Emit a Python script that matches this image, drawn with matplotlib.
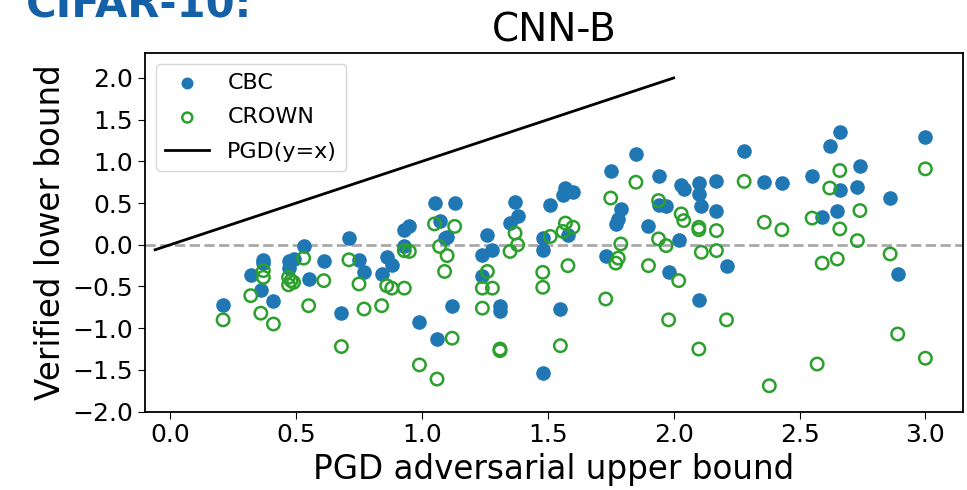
import matplotlib
matplotlib.use("Agg")
import matplotlib.pyplot as plt

# CBC verified lower bounds
cbc_x = [0.21, 0.32, 0.36, 0.37, 0.37, 0.41, 0.47, 0.49, 0.47, 0.53, 0.55, 0.61,
         0.68, 0.71, 0.75, 0.77, 0.84, 0.86, 0.88, 0.93, 0.95, 0.93, 0.99, 1.05,
         1.06, 1.07, 1.09, 1.10, 1.13, 1.12, 1.24, 1.26, 1.24, 1.28, 1.31, 1.31,
         1.35, 1.37, 1.38, 1.48, 1.48, 1.48, 1.51, 1.55, 1.56, 1.57, 1.58, 1.60,
         1.73, 1.75, 1.77, 1.78, 1.79, 1.85, 1.90, 1.94, 1.94, 1.97, 1.98, 2.02,
         2.03, 2.04, 2.10, 2.10, 2.11, 2.10, 2.17, 2.17, 2.21, 2.28, 2.36, 2.43,
         2.55, 2.59, 2.62, 2.65, 2.66, 2.66, 2.74, 2.73, 2.86, 2.89, 3.00]
cbc_y = [-0.72, -0.36, -0.54, -0.18, -0.22, -0.68, -0.20, -0.17, -0.28, -0.01, -0.41, -0.20,
         -0.82, 0.08, -0.18, -0.33, -0.35, -0.15, -0.24, 0.18, 0.22, -0.01, -0.93, 0.50,
         -1.13, 0.29, 0.08, 0.09, 0.50, -0.74, -0.12, 0.12, -0.37, -0.06, -0.73, -0.79,
         0.26, 0.51, 0.35, 0.08, -0.06, -1.54, 0.48, -0.77, 0.60, 0.68, 0.12, 0.63,
         -0.14, 0.88, 0.25, 0.31, 0.43, 1.09, 0.23, 0.82, 0.48, 0.46, -0.33, 0.06,
         0.72, 0.67, 0.74, 0.61, 0.46, -0.66, 0.76, 0.40, -0.25, 1.12, 0.75, 0.74,
         0.83, 0.33, 1.18, 0.40, 1.35, 0.66, 0.95, 0.69, 0.56, -0.35, 1.29]

# CROWN verified lower bounds
crown_x = [0.21, 0.32, 0.36, 0.37, 0.37, 0.41, 0.47, 0.47, 0.49, 0.48, 0.53, 0.55,
           0.61, 0.68, 0.71, 0.75, 0.77, 0.84, 0.86, 0.88, 0.93, 0.95, 0.93, 0.99,
           1.05, 1.06, 1.07, 1.09, 1.10, 1.13, 1.12, 1.24, 1.26, 1.24, 1.28, 1.31,
           1.31, 1.35, 1.37, 1.38, 1.48, 1.48, 1.51, 1.55, 1.56, 1.57, 1.58, 1.60,
           1.73, 1.75, 1.77, 1.78, 1.79, 1.85, 1.90, 1.94, 1.94, 1.97, 1.98, 2.02,
           2.03, 2.04, 2.10, 2.10, 2.11, 2.10, 2.17, 2.17, 2.21, 2.28, 2.36, 2.38,
           2.43, 2.55, 2.57, 2.59, 2.62, 2.65, 2.66, 2.66, 2.74, 2.73, 2.86, 2.89,
           3.00, 3.00]
crown_y = [-0.90, -0.61, -0.82, -0.31, -0.39, -0.95, -0.39, -0.48, -0.45, -0.43, -0.16, -0.73,
           -0.43, -1.22, -0.18, -0.47, -0.77, -0.73, -0.49, -0.52, -0.07, -0.08, -0.52, -1.44,
           0.25, -1.61, -0.02, -0.32, -0.13, 0.22, -1.12, -0.52, -0.32, -0.76, -0.52, -1.27,
           -1.25, -0.08, 0.14, 0.00, -0.33, -0.51, 0.10, -1.21, 0.16, 0.26, -0.25, 0.21,
           -0.65, 0.56, -0.22, -0.16, 0.01, 0.75, -0.25, 0.53, 0.07, -0.01, -0.90, -0.43,
           0.37, 0.29, 0.21, 0.18, -0.09, -1.25, 0.17, -0.07, -0.90, 0.76, 0.27, -1.69,
           0.18, 0.32, -1.43, -0.22, 0.68, -0.17, 0.89, 0.19, 0.41, 0.05, -0.11, -1.07,
           0.91, -1.36]

# y = x reference line end points
pgd_x = [-0.06, 2.0]


def main():
    fig = plt.figure(figsize=(9.67, 4.9), dpi=100)
    ax = fig.add_axes([0.150, 0.160, 0.846, 0.732])

    ax.axhline(0, color="darkgray", linestyle="--", linewidth=2, zorder=1)
    ax.scatter(cbc_x, cbc_y, s=90, color="tab:blue", label="CBC", zorder=2)
    ax.scatter(crown_x, crown_y, s=80, facecolors="none", edgecolors="tab:green",
               linewidths=1.8, label="CROWN", zorder=3)
    ax.plot(pgd_x, pgd_x, color="black", linewidth=2, label="PGD(y=x)")

    ax.set_xlim(-0.1, 3.15)
    ax.set_ylim(-2.0, 2.3)
    ax.set_xticks([0.0, 0.5, 1.0, 1.5, 2.0, 2.5, 3.0])
    ax.set_yticks([-2.0, -1.5, -1.0, -0.5, 0.0, 0.5, 1.0, 1.5, 2.0])
    ax.tick_params(labelsize=18, length=5)
    for sp in ax.spines.values():
        sp.set_linewidth(1.3)

    ax.set_xlabel("PGD adversarial upper bound", fontsize=23.5)
    ax.set_ylabel("Verified lower bound", fontsize=23.5)
    ax.set_title("CNN-B", fontsize=28, pad=8)
    ax.legend(loc="upper left", fontsize=16, markerscale=0.8, labelspacing=0.65)

    # panel tag, partly above the top edge as in the source figure
    fig.text(0.027, 0.965, "CIFAR-10:", fontsize=30, fontweight="bold",
             color="#1461a8", ha="left", va="baseline")

    fig.savefig("out.png", dpi=100)


if __name__ == "__main__":
    main()
